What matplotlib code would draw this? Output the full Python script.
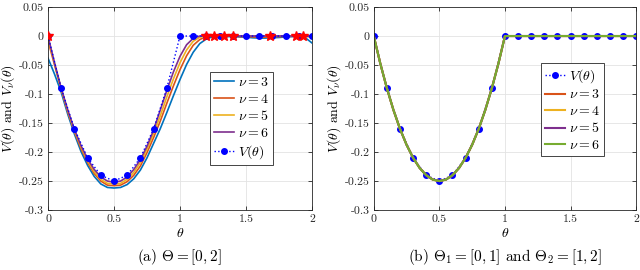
import numpy as np
import matplotlib
matplotlib.use("Agg")
import matplotlib.pyplot as plt

plt.rcParams['font.family'] = ['cmr10', 'DejaVu Serif']
plt.rcParams['mathtext.fontset'] = 'cm'
plt.rcParams['axes.unicode_minus'] = False

COLORS = ['#0072BD', '#D95319', '#EDB120', '#7E2F8E', '#77AC30']

# exact V(theta) sampled at 0:0.1:2
THETA_V = [0.0, 0.1, 0.2, 0.3, 0.4, 0.5, 0.6, 0.7, 0.8, 0.9, 1.0,
           1.1, 1.2, 1.3, 1.4, 1.5, 1.6, 1.7, 1.8, 1.9, 2.0]
V_EXACT = [0.0, -0.09, -0.16, -0.21, -0.24, -0.25, -0.24, -0.21, -0.16, -0.09, 0.0,
           0.0, 0.0, 0.0, 0.0, 0.0, 0.0, 0.0, 0.0, 0.0, 0.0]

# (a) approximations on a 0:0.05:2 grid
THETA_FINE = np.linspace(0, 2, 41)
NU3_A = [-0.038, -0.066, -0.097, -0.135, -0.169, -0.199, -0.223, -0.242, -0.255, -0.261,
         -0.262, -0.261, -0.256, -0.246, -0.231, -0.210, -0.185, -0.160, -0.132, -0.103,
         -0.075, -0.049, -0.028, -0.013, -0.005, -0.001, -0.0005, -0.001, -0.001, -0.0015,
         -0.002, -0.003, -0.0035, -0.0035, -0.003, -0.0025, -0.0015, -0.001, -0.001, -0.003,
         -0.012]
NU4_A = [-0.008, -0.050, -0.092, -0.131, -0.165, -0.194, -0.218, -0.237, -0.250, -0.257,
         -0.258, -0.257, -0.251, -0.240, -0.224, -0.201, -0.175, -0.147, -0.116, -0.086,
         -0.058, -0.034, -0.016, -0.006, -0.001, 0.0, 0.0, 0.0, -0.0005, -0.001,
         -0.001, -0.0015, -0.002, -0.002, -0.0015, -0.001, -0.001, -0.0005, 0.0, -0.0005,
         -0.002]
NU5_A = [-0.003, -0.048, -0.091, -0.129, -0.163, -0.191, -0.215, -0.234, -0.247, -0.254,
         -0.255, -0.254, -0.247, -0.235, -0.218, -0.195, -0.168, -0.138, -0.105, -0.074,
         -0.046, -0.024, -0.009, -0.002, 0.0, 0.0, 0.0, 0.0, 0.0, 0.0,
         0.0, 0.0, 0.0, 0.0, 0.0, 0.0, 0.0, 0.0, 0.0, 0.0,
         0.0]
NU6_A = [0.0, -0.047, -0.090, -0.128, -0.161, -0.189, -0.212, -0.230, -0.243, -0.250,
         -0.252, -0.250, -0.243, -0.230, -0.213, -0.190, -0.162, -0.128, -0.094, -0.062,
         -0.035, -0.015, -0.004, 0.0, 0.0, 0.0, 0.0, 0.0, 0.0, 0.0,
         0.0, 0.0, 0.0, 0.0, 0.0, 0.0, 0.0, 0.0, 0.0, 0.0,
         0.0]
STAR_THETA = [0.0, 1.20, 1.26, 1.33, 1.40, 1.68, 1.88, 1.93]
STAR_V = [0.0] * len(STAR_THETA)

# (b) approximations coincide with V(theta)
THETA_B = [0.0, 0.05, 0.1, 0.15, 0.2, 0.25, 0.3, 0.35, 0.4, 0.45, 0.5,
           0.55, 0.6, 0.65, 0.7, 0.75, 0.8, 0.85, 0.9, 0.95, 1.0, 2.0]
NU_B = [0.0, -0.0475, -0.09, -0.1275, -0.16, -0.1875, -0.21, -0.2275, -0.24, -0.2475, -0.25,
        -0.2475, -0.24, -0.2275, -0.21, -0.1875, -0.16, -0.1275, -0.09, -0.0475, 0.0, 0.0]

NU_LABELS = [r'$\nu = 3$', r'$\nu = 4$', r'$\nu = 5$', r'$\nu = 6$']
V_LABEL = r'$V(\theta)$'
XTICKS = [0, 0.5, 1, 1.5, 2]
XTICKLABELS = ['0', '0.5', '1', '1.5', '2']
YTICKS = [0.05, 0, -0.05, -0.1, -0.15, -0.2, -0.25, -0.3]
YTICKLABELS = ['0.05', '0', '-0.05', '-0.1', '-0.15', '-0.2', '-0.25', '-0.3']


def style_axes(ax):
    ax.set_xlim(0, 2)
    ax.set_ylim(-0.3, 0.05)
    ax.set_xticks(XTICKS)
    ax.set_xticklabels(XTICKLABELS)
    ax.set_yticks(YTICKS)
    ax.set_yticklabels(YTICKLABELS)
    ax.tick_params(direction='in', length=3, width=0.6, labelsize=8.5, colors='#262626',
                   top=True, right=True, pad=3)
    ax.grid(True, color='#e3e3e3', linewidth=0.6)
    ax.set_axisbelow(True)
    for s in ax.spines.values():
        s.set_color('#262626')
        s.set_linewidth(0.6)
    ax.set_xlabel(r'$\theta$', fontsize=10, labelpad=2)
    ax.set_ylabel(r'$V(\theta)$ and $V_\nu(\theta)$', fontsize=10, labelpad=1)


def add_legend(ax, anchor):
    leg = ax.legend(loc='upper left', bbox_to_anchor=anchor, borderaxespad=0,
                    fontsize=10, handlelength=1.4, handletextpad=0.3, labelspacing=0.25,
                    borderpad=0.3, fancybox=False, framealpha=1)
    leg.get_frame().set_edgecolor('#262626')
    leg.get_frame().set_linewidth(0.6)


fig = plt.figure(figsize=(6.4, 2.7), dpi=100)
ax1 = fig.add_axes([0.075, 0.222, 0.4125, 0.752])
ax2 = fig.add_axes([0.584, 0.222, 0.41, 0.752])

# (a)
for y, c, lab in zip([NU3_A, NU4_A, NU5_A, NU6_A], COLORS[:4], NU_LABELS):
    ax1.plot(THETA_FINE, y, color=c, lw=1.2, label=lab)
ax1.plot(THETA_V, V_EXACT, 'b:', marker='o', ms=4, lw=1.0, label=V_LABEL)
ax1.plot(STAR_THETA, STAR_V, 'r*', ms=7, linestyle='none', zorder=5)
style_axes(ax1)
add_legend(ax1, (0.614, 0.68))

# (b)
ax2.plot(THETA_V, V_EXACT, 'b:', marker='o', ms=4, lw=1.0, label=V_LABEL)
for c, lab in zip(COLORS[1:], NU_LABELS):
    ax2.plot(THETA_B, NU_B, color=c, lw=1.5, label=lab)
style_axes(ax2)
add_legend(ax2, (0.637, 0.724))

fig.text(0.28, 0.035, r'(a) $\Theta = [0, 2]$', ha='center', fontsize=11)
fig.text(0.789, 0.035, r'(b) $\Theta_1 = [0, 1]$ and $\Theta_2 = [1, 2]$', ha='center', fontsize=11)

fig.savefig('out.png', dpi=100)
